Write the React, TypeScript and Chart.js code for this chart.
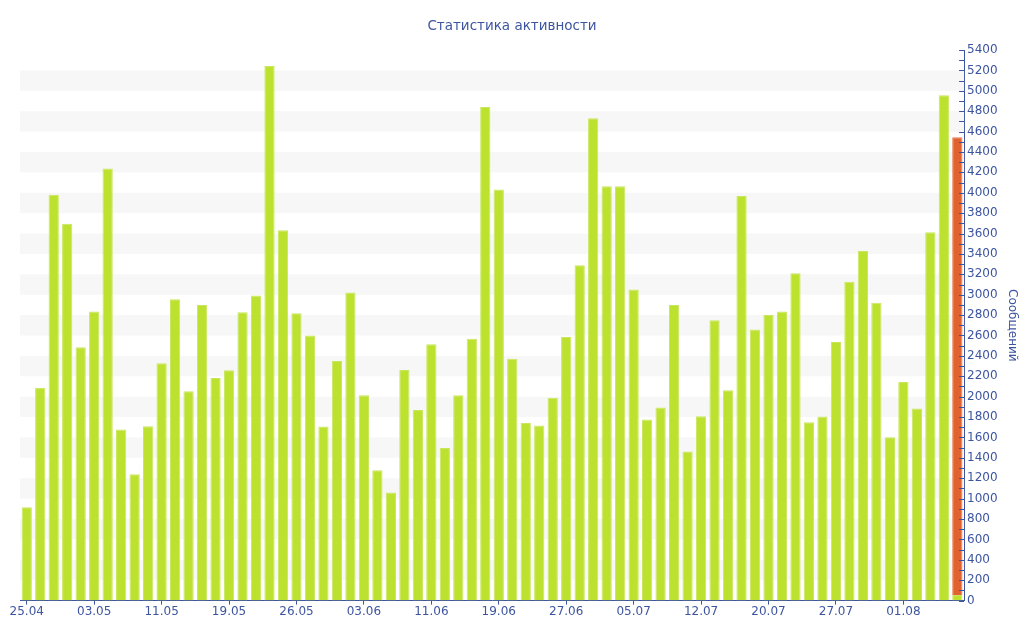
import React, { useEffect, useRef } from "react";
import { Chart, registerables } from "chart.js";

Chart.register(...registerables);

const TITLE = "Статистика активности";
const AXIS_TITLE = "Сообщений";

const tickLabels = [
  "25.04", "", "", "", "", "03.05", "", "", "", "",
  "11.05", "", "", "", "", "19.05", "", "", "", "",
  "26.05", "", "", "", "", "03.06", "", "", "", "",
  "11.06", "", "", "", "", "19.06", "", "", "", "",
  "27.06", "", "", "", "", "05.07", "", "", "", "",
  "12.07", "", "", "", "", "20.07", "", "", "", "",
  "27.07", "", "", "", "", "01.08", "", "", "", "",
];

// messages per day
const messages = [
  915, 2088, 3980, 3697, 2484, 2836, 4238, 1678, 1238, 1710,
  2327, 2956, 2052, 2898, 2182, 2258, 2829, 2992, 5244, 3631,
  2818, 2600, 1707, 2349, 3021, 2015, 1278, 1060, 2262, 1870,
  2513, 1496, 2015, 2567, 4840, 4031, 2371, 1743, 1718, 1990,
  2585, 3290, 4731, 4063, 4063, 3050, 1776, 1895, 2898, 1463,
  1808, 2749, 2063, 3969, 2658, 2800, 2836, 3210, 1750, 1805,
  2535, 3127, 3428, 2920, 1601, 2143, 1885, 3613, 4957, 55,
];

// current (unfinished) day, stacked on top
const today = [
  null, null, null, null, null, null, null, null, null, null,
  null, null, null, null, null, null, null, null, null, null,
  null, null, null, null, null, null, null, null, null, null,
  null, null, null, null, null, null, null, null, null, null,
  null, null, null, null, null, null, null, null, null, null,
  null, null, null, null, null, null, null, null, null, null,
  null, null, null, null, null, null, null, null, null, 4490,
];

const Y_MAX = 5400;
const BLUE = "#3d55a0";
const FONT = "'DejaVu Sans', Verdana, sans-serif";

const decorPlugin = {
  id: "decor",
  beforeDatasetsDraw(chart) {
    const { ctx, chartArea } = chart;
    const y = chart.scales.y;
    ctx.save();
    ctx.fillStyle = "#f7f7f7";
    for (let v = 200; v < Y_MAX; v += 400) {
      const top = y.getPixelForValue(v + 200);
      const bottom = y.getPixelForValue(v);
      ctx.fillRect(chartArea.left, top, chartArea.right - chartArea.left, bottom - top);
    }
    ctx.restore();
  },
  afterDraw(chart) {
    const { ctx, chartArea, width } = chart;
    const y = chart.scales.y;
    ctx.save();
    // minor ticks pointing into the plot
    ctx.strokeStyle = BLUE;
    ctx.lineWidth = 1;
    for (let v = 0; v <= Y_MAX; v += 100) {
      const py = Math.round(y.getPixelForValue(v)) + 0.5;
      ctx.beginPath();
      ctx.moveTo(chartArea.right - 5, py);
      ctx.lineTo(chartArea.right, py);
      ctx.stroke();
    }
    // title centred on the whole canvas
    ctx.fillStyle = BLUE;
    ctx.font = "13.5px " + FONT;
    ctx.textAlign = "center";
    ctx.textBaseline = "middle";
    ctx.fillText(TITLE, width / 2, 26);
    ctx.restore();
  },
};

const ActivityChart = () => {
  const canvasRef = useRef(null);

  useEffect(() => {
    Chart.defaults.font.family = FONT;
    Chart.defaults.color = BLUE;

    const chart = new Chart(canvasRef.current, {
      type: "bar",
      data: {
        labels: tickLabels,
        datasets: [
          {
            label: AXIS_TITLE,
            data: messages,
            backgroundColor: "#bde12f",
            borderColor: "#c9e75e",
            borderWidth: 1,
            barPercentage: 0.76,
            categoryPercentage: 1,
          },
          {
            label: "Сегодня",
            data: today,
            backgroundColor: "#e0622f",
            borderColor: "#e77b50",
            borderWidth: 1,
            barPercentage: 0.76,
            categoryPercentage: 1,
          },
        ],
      },
      options: {
        animation: false,
        responsive: true,
        maintainAspectRatio: false,
        layout: { padding: { left: 20, right: 1, bottom: 21, top: 50 } },
        plugins: {
          legend: { display: false },
          tooltip: { enabled: false },
          title: { display: false },
        },
        scales: {
          x: {
            stacked: true,
            grid: {
              display: true,
              offset: false,
              drawOnChartArea: false,
              drawTicks: true,
              tickLength: 4,
              tickColor: (c) => (c.tick && c.tick.label ? BLUE : "rgba(0,0,0,0)"),
            },
            border: { display: true, color: BLUE, width: 1 },
            ticks: {
              autoSkip: false,
              maxRotation: 0,
              padding: 0,
              color: BLUE,
              font: { size: 12 },
            },
          },
          y: {
            stacked: true,
            position: "right",
            min: 0,
            max: Y_MAX,
            grid: { display: false, drawTicks: false },
            border: { display: true, color: BLUE, width: 1 },
            ticks: {
              stepSize: 200,
              padding: 3,
              color: BLUE,
              font: { size: 12 },
              callback: (v) => String(v),
            },
            title: {
              display: true,
              text: AXIS_TITLE,
              color: BLUE,
              font: { size: 12 },
              padding: { top: 4, bottom: 4 },
            },
          },
        },
      },
      plugins: [decorPlugin],
    });

    return () => {
      chart.destroy();
    };
  }, []);

  return (
    <div style={{ position: "fixed", left: 0, top: 0, width: 1024, height: 640, background: "#fff" }}>
      <canvas ref={canvasRef} />
    </div>
  );
};

export default function App() {
  return <ActivityChart />;
}
